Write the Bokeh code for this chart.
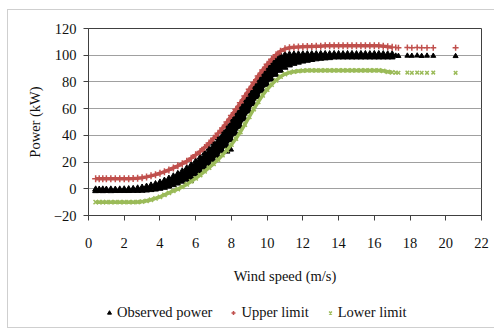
from bokeh.plotting import figure
from bokeh.layouts import column
from bokeh.models import Range1d, FixedTicker, Legend, LegendItem
from bokeh.embed import file_html
from bokeh.resources import INLINE

# ---------------- data ----------------
x_ticks = [0, 2, 4, 6, 8, 10, 12, 14, 16, 18, 20, 22]
y_ticks = [-20, 0, 20, 40, 60, 80, 100, 120]

wind_speed = [0.4, 0.6, 0.8, 1.0, 1.25, 1.5, 1.75, 2.0, 2.25, 2.5,
              2.75, 3.0, 3.25, 3.5, 3.75, 4.0, 4.25, 4.5, 4.75, 5.0,
              5.25, 5.5, 5.75, 6.0, 6.25, 6.5, 6.75, 7.0, 7.25, 7.5,
              7.75, 8.0, 8.25, 8.5, 8.75, 9.0, 9.25, 9.5, 9.75, 10.0,
              10.25, 10.5, 10.75, 11.0, 11.25, 11.5, 11.75, 12.0, 12.25, 12.5,
              12.75, 13.0, 13.25, 13.5, 13.75, 14.0, 14.25, 14.5, 14.75, 15.0,
              15.25, 15.5, 15.75, 16.0, 16.25, 16.5, 16.75, 17.0]

upper_limit = [7.5, 7.5, 7.5, 7.5, 7.5, 7.5, 7.5, 7.5, 7.6, 7.7,
               7.9, 8.3, 8.9, 9.7, 10.6, 11.6, 12.8, 14.1, 15.6, 17.2,
               18.8, 20.6, 22.9, 25.4, 28.0, 31.0, 34.3, 37.8, 41.5, 45.5,
               50.0, 54.8, 59.6, 64.5, 69.5, 74.5, 79.6, 84.5, 89.0, 93.2,
               97.0, 100.3, 103.0, 104.8, 105.6, 106.0, 106.2, 106.4, 106.5, 106.6,
               106.7, 106.8, 107.0, 107.0, 107.0, 107.0, 107.0, 107.0, 107.0, 107.0,
               107.0, 107.0, 107.0, 107.0, 107.0, 106.8, 106.3, 106.0]

lower_limit = [-10.0, -10.0, -10.0, -10.0, -10.0, -10.0, -10.0, -10.0, -10.0, -10.0,
               -9.9, -9.6, -9.0, -8.2, -7.2, -6.0, -4.6, -3.1, -1.6, -0.2,
               1.4, 3.3, 5.5, 7.8, 10.3, 13.0, 15.8, 18.7, 21.8, 25.2,
               29.0, 33.0, 37.5, 42.5, 48.0, 53.8, 59.6, 65.0, 70.0, 74.3,
               78.0, 81.2, 84.0, 85.9, 87.0, 87.7, 88.1, 88.4, 88.6, 88.6,
               88.6, 88.6, 88.6, 88.6, 88.6, 88.6, 88.6, 88.6, 88.6, 88.6,
               88.6, 88.6, 88.6, 88.6, 88.6, 88.3, 87.6, 87.2]

# observed power: upper and lower edge of the dense scatter band
observed_high = [-0.4, -0.5, -0.4, -0.5, -0.4, -0.5, -0.4, -0.3, -0.2, 0.0,
                 0.4, 1.0, 1.7, 2.6, 3.6, 4.8, 6.2, 7.7, 9.4, 11.2,
                 13.2, 15.4, 17.8, 20.5, 23.4, 26.6, 30.1, 33.9, 38.0, 42.4,
                 47.2, 52.2, 57.2, 62.3, 67.5, 72.6, 77.8, 82.8, 87.5, 91.7,
                 95.3, 98.0, 99.6, 100.3, 100.6, 100.7, 100.8, 100.8, 100.9, 100.9,
                 100.9, 101.0, 101.0, 100.9, 101.0, 101.0, 100.9, 101.0, 101.0, 100.9,
                 101.0, 101.0, 100.9, 101.0, 101.0, 100.9, 100.8, 100.8]

observed_low = [-1.6, -1.5, -1.6, -1.5, -1.6, -1.5, -1.5, -1.5, -1.5, -1.4,
                -1.4, -1.3, -1.1, -0.8, -0.4, 0.2, 0.9, 1.8, 2.9, 4.1,
                5.5, 7.0, 8.8, 10.8, 13.1, 15.6, 18.4, 21.4, 24.6, 28.2,
                32.2, 36.6, 41.4, 46.6, 52.2, 58.0, 63.6, 68.8, 73.5, 78.0,
                82.0, 85.5, 88.5, 90.8, 92.5, 93.7, 94.6, 95.4, 96.0, 96.6,
                97.1, 97.5, 97.8, 98.0, 98.5, 98.5, 98.5, 98.5, 98.5, 98.5,
                98.5, 98.5, 98.5, 98.5, 98.5, 98.5, 98.5, 98.5]

outlier_speed = [5.7, 7.75, 7.95]
outlier_power = [6.0, 28.0, 29.5]

tail_speed = [17.2, 17.35, 17.85, 18.1, 18.4, 18.65, 18.95, 19.3, 20.55]
tail_observed = [99.6, 99.4, 99.6, 99.5, 99.7, 99.4, 99.6, 99.5, 99.3]
tail_upper = [105.8, 105.6, 105.8, 105.6, 105.7, 105.6, 105.6, 105.5, 105.6]
tail_lower = [87.0, 86.9, 87.0, 86.8, 87.0, 86.9, 86.8, 87.0, 86.8]

series_labels = ["Observed power", "Upper limit", "Lower limit"]

# ---------------- styling ----------------
FONT = "Liberation Serif"
BLACK = "#000000"
RED = "#C0504D"
GREEN = "#9BBB59"
AXIS = "#404040"
TXT = "#111111"

p = figure(width=494, height=290, output_backend="svg", toolbar_location=None,
           x_range=Range1d(0, 22), y_range=Range1d(-20, 120),
           min_border_left=88, min_border_right=13, min_border_top=28,
           min_border_bottom=75)
p.background_fill_color = "white"
p.border_fill_alpha = 0
p.outline_line_color = AXIS
p.outline_line_width = 1

p.xgrid.grid_line_color = None
p.ygrid.grid_line_color = "#a0a0a0"
p.ygrid.grid_line_width = 1

for ax in (p.xaxis[0], p.yaxis[0]):
    ax.axis_line_color = AXIS
    ax.major_tick_line_color = AXIS
    ax.minor_tick_line_color = None
    ax.major_tick_in = 0
    ax.major_tick_out = 5
    ax.major_label_text_font = FONT
    ax.major_label_text_font_size = "14.5px"
    ax.major_label_text_color = TXT
    ax.axis_label_text_font = FONT
    ax.axis_label_text_font_size = "14.5px"
    ax.axis_label_text_font_style = "normal"
    ax.axis_label_text_color = TXT

p.xaxis.ticker = FixedTicker(ticks=x_ticks)
p.yaxis.ticker = FixedTicker(ticks=y_ticks)
p.xaxis.axis_label = "Wind speed (m/s)"
p.yaxis.axis_label = "Power (kW)"
p.xaxis.major_label_standoff = 17
p.xaxis.axis_label_standoff = 17
p.yaxis.major_label_standoff = 7
p.yaxis.axis_label_standoff = 8

# observed power (dense band of triangles)
p.varea(x=wind_speed, y1=observed_low, y2=observed_high, fill_color=BLACK)
p.scatter(wind_speed, observed_high, marker="triangle", size=6,
          fill_color=BLACK, line_color=BLACK)
p.scatter(wind_speed, observed_low, marker="triangle", size=6,
          fill_color=BLACK, line_color=BLACK)
p.scatter(outlier_speed, outlier_power, marker="triangle", size=6,
          fill_color=BLACK, line_color=BLACK)
p.scatter(tail_speed, tail_observed, marker="triangle", size=5,
          fill_color=BLACK, line_color=BLACK)

# upper limit
p.line(wind_speed, upper_limit, line_color=RED, line_width=3.5)
p.scatter(wind_speed, upper_limit, marker="cross", size=7,
          line_color=RED, line_width=1.5)
p.scatter(tail_speed, tail_upper, marker="cross", size=6,
          line_color=RED, line_width=1.5)

# lower limit
p.line(wind_speed, lower_limit, line_color=GREEN, line_width=3.5)
p.scatter(wind_speed, lower_limit, marker="x", size=6,
          line_color=GREEN, line_width=1.5)
p.scatter(tail_speed, tail_lower, marker="x", size=5,
          line_color=GREEN, line_width=1.5)

# ---------------- legend strip below the chart ----------------
# (same series, plotted outside the strip's view so only the legend shows)
lg = figure(width=494, height=40, output_backend="svg", toolbar_location=None,
            x_range=Range1d(-10, -9), y_range=Range1d(-10, -9),
            x_axis_location=None, y_axis_location=None,
            min_border=0, min_border_left=0, min_border_right=0,
            min_border_top=0, min_border_bottom=0)
lg.grid.visible = False
lg.outline_line_color = None
lg.background_fill_alpha = 0
lg.border_fill_alpha = 0
obs_r = lg.scatter(wind_speed, observed_high, marker="triangle",
                   fill_color=BLACK, line_color=BLACK)
up_r = lg.scatter(wind_speed, upper_limit, marker="cross",
                  line_color=RED, line_width=1.5)
lo_r = lg.scatter(wind_speed, lower_limit, marker="x",
                  line_color=GREEN, line_width=1.5)

legend = Legend(items=[LegendItem(label=series_labels[0], renderers=[obs_r]),
                       LegendItem(label=series_labels[1], renderers=[up_r]),
                       LegendItem(label=series_labels[2], renderers=[lo_r])],
                orientation="horizontal", location=(16, 9),
                border_line_color=None, background_fill_alpha=0,
                padding=0, margin=0, spacing=16, label_standoff=3,
                glyph_width=10, glyph_height=17, label_height=17,
                label_text_font=FONT, label_text_font_size="14.5px",
                label_text_color=TXT)
lg.add_layout(legend, "center")

G = "linear-gradient(#cfcfcf,#cfcfcf)"
layout = column(p, lg, spacing=0)
layout.styles = {
    "background": (f"{G} 7px 9px / 1px 319px no-repeat, "
                   f"{G} 7px 9px / 487px 1px no-repeat, "
                   f"{G} 7px 327px / 487px 1px no-repeat, white"),
}
open("out.html", "w").write(file_html(layout, INLINE))
